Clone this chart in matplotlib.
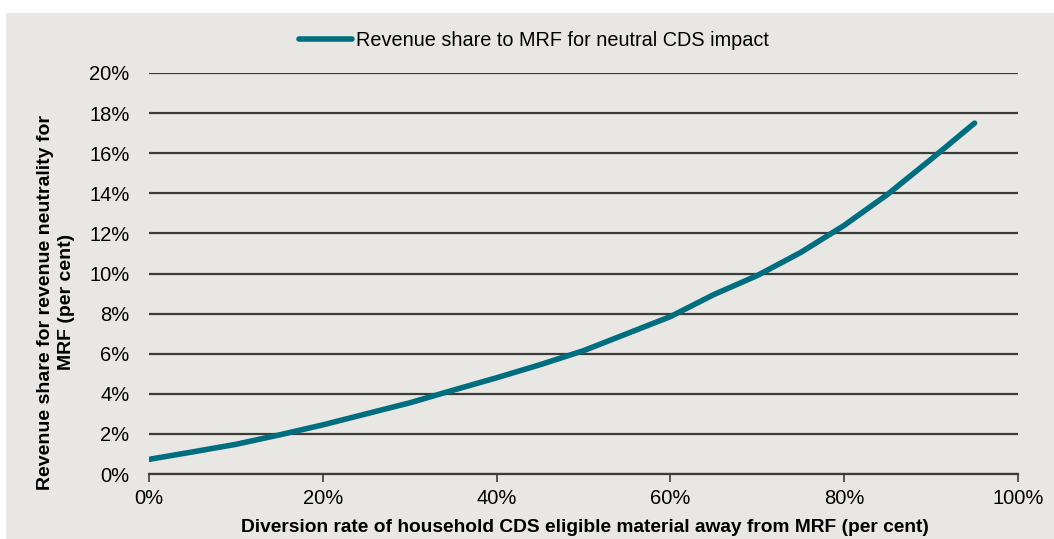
import matplotlib.pyplot as plt
from matplotlib.patches import Rectangle
from matplotlib.ticker import FuncFormatter, MultipleLocator

# diversion rate (%) and revenue share needed for neutrality (%)
diversion = [0, 5, 10, 15, 20, 25, 30, 35, 40, 45, 50, 55, 60, 65, 70, 75, 80, 85, 90, 95]
rev_share = [0.73, 1.10, 1.48, 1.95, 2.45, 3.00, 3.55, 4.18, 4.80, 5.45,
             6.15, 7.00, 7.85, 8.95, 9.90, 11.05, 12.40, 13.95, 15.70, 17.50]
series_name = "Revenue share to MRF for neutral CDS impact"

bg = "#E8E7E3"
teal = "#006E7F"
grid_col = "#3C3C3C"

plt.rcParams['font.family'] = ['Liberation Sans', 'DejaVu Sans']

fig = plt.figure(figsize=(10.54, 5.39), dpi=100)
fig.patch.set_facecolor("white")
fig.patches.append(Rectangle((6 / 1054, 0), 1 - 6 / 1054, 1 - 13 / 539,
                             transform=fig.transFigure, facecolor=bg,
                             edgecolor="none", zorder=-10))

ax = fig.add_axes([149 / 1054, 1 - 474 / 539, (1018 - 149) / 1054, (474 - 73) / 539])
ax.patch.set_alpha(0)

ax.plot(diversion, rev_share, color=teal, lw=4, solid_capstyle="round",
        solid_joinstyle="round", label=series_name, zorder=3)

ax.set_xlim(0, 100)
ax.set_ylim(0, 20)
ax.xaxis.set_major_locator(MultipleLocator(20))
ax.yaxis.set_major_locator(MultipleLocator(2))
ax.xaxis.set_major_formatter(FuncFormatter(lambda v, p: f"{v:.0f}%"))
ax.yaxis.set_major_formatter(FuncFormatter(lambda v, p: f"{v:.0f}%"))

ax.grid(axis="y", color=grid_col, lw=1.6, zorder=1)
ax.set_axisbelow(True)
for s in ["top", "right", "left"]:
    ax.spines[s].set_visible(False)
ax.spines["bottom"].set_color(grid_col)
ax.spines["bottom"].set_linewidth(1.6)

ax.tick_params(axis="y", length=0, pad=14, labelsize=14.5, labelcolor="black")
ax.tick_params(axis="x", length=6, width=1.2, color=grid_col, pad=5,
               labelsize=14.5, labelcolor="black")

fig.text(585 / 1054, 1 - 528 / 539,
         "Diversion rate of household CDS eligible material away from MRF (per cent)",
         ha="center", va="center", fontsize=13.8, fontweight="bold",
         family=['Liberation Sans Narrow', 'Liberation Sans', 'DejaVu Sans'])
fig.text(56 / 1054, 1 - 302 / 539,
         "Revenue share for revenue neutrality for\nMRF (per cent)",
         ha="center", va="center", rotation=90, fontsize=14,
         fontweight="bold", linespacing=1.3)

leg = ax.legend(loc="center", bbox_to_anchor=(534 / 1054, 1 - 40 / 539),
                bbox_transform=fig.transFigure, frameon=False, fontsize=14.3,
                handlelength=2.7, handletextpad=0.2)

fig.savefig("out.png", dpi=100, facecolor=fig.get_facecolor())
